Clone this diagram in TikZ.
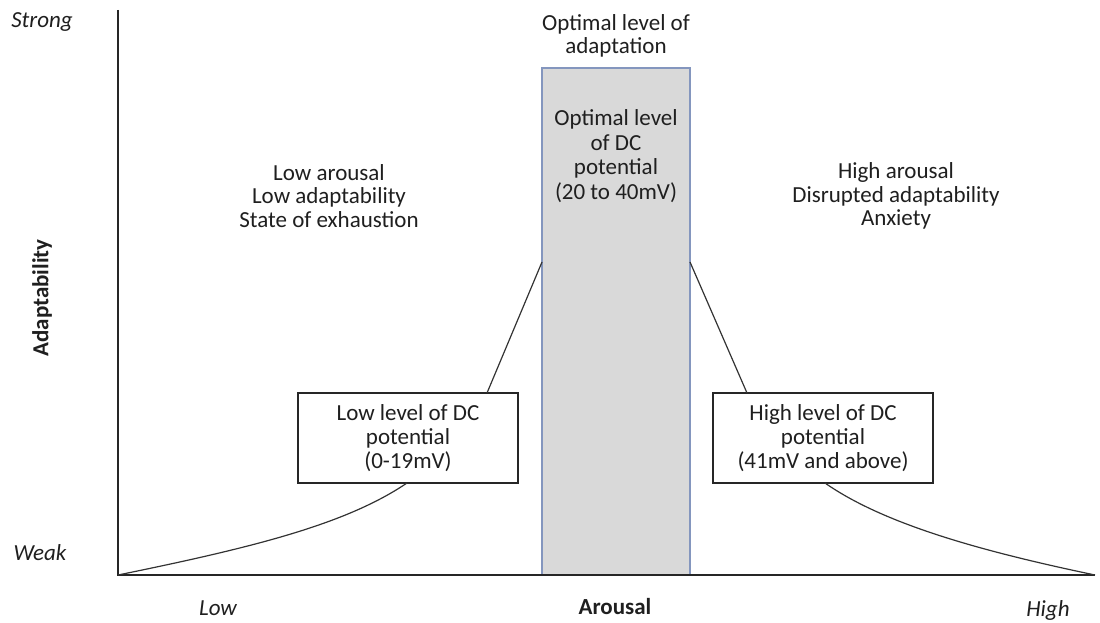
\documentclass[tikz,border=0pt]{standalone}
\usepackage{fontspec}
\setmainfont{Carlito}
\begin{document}
\begin{tikzpicture}[x=1pt,y=-1pt,
  txt/.style={font=\fontsize{23}{23.5}\selectfont, align=center, text=black!88, inner sep=0pt},
  lvlbox/.style={draw=black!85, line width=1.2pt, fill=white, minimum width=220pt, minimum height=90pt, inner sep=0pt, font=\fontsize{23}{24}\selectfont, align=center, text=black!88},
  axis/.style={draw=black!85, line width=1.6pt},
  curve/.style={draw=black!80, line width=1.2pt}]
\useasboundingbox (0,0) rectangle (1100,623);
% optimal rectangle
\node[draw={rgb,255:red,132;green,150;blue,190}, line width=1.2pt, fill={rgb,255:red,217;green,217;blue,217}, minimum width=148pt, minimum height=507pt, inner sep=0pt] (opt) at (616,321.5) {};
\node[txt, font=\fontsize{23}{24.5}\selectfont] (opttxt) at (616,156) {Optimal level\\of DC\\potential\\(20 to 40mV)};
% axes
\coordinate (origin) at (118,575);
\coordinate (ytop) at (118,10);
\coordinate (xend) at (1095,575);
\draw[axis] (ytop) -- (origin) -- (xend);
% boxes
\node[lvlbox] (low) at (408,438) {Low level of DC\\potential\\(0-19mV)};
\node[lvlbox] (high) at (823,438) {High level of DC\\potential\\(41mV and above)};
% connectors
\coordinate (lowtop) at (487,393);
\coordinate (lowbot) at (407,483);
\coordinate (hightop) at (747,393);
\coordinate (highbot) at (825,483);
\coordinate (optL) at (542,262);
\coordinate (optR) at (690,262);
\draw[curve] (origin) .. controls (250,548) and (345,525) .. (lowbot);
\draw[curve] (lowtop) -- (optL);
\draw[curve] (optR) -- (hightop);
\draw[curve] (highbot) .. controls (885,525) and (985,552) .. (xend);
% labels
\node[txt, font=\fontsize{23}{23.5}\selectfont\itshape] (strong) at (42,22) {Strong};
\node[txt, font=\fontsize{23}{23.5}\selectfont\itshape] (weak) at (40,553) {Weak};
\node[txt, font=\fontsize{23}{23.5}\selectfont\bfseries, rotate=90] (adapt) at (42,298) {Adaptability};
\node[txt, font=\fontsize{23}{23.5}\selectfont\itshape] (lowx) at (218,608) {Low};
\node[txt, font=\fontsize{23}{23.5}\selectfont\bfseries] (arousal) at (615,607) {Arousal};
\node[txt, font=\fontsize{23}{23.5}\selectfont\itshape] (highx) at (1048,610) {High};
\node[txt] (opthead) at (616,36) {Optimal level of\\adaptation};
\node[txt] (lefttxt) at (329,196) {Low arousal\\Low adaptability\\State of exhaustion};
\node[txt] (righttxt) at (896,196) {High arousal\\Disrupted adaptability\\Anxiety};
\end{tikzpicture}
\end{document}
